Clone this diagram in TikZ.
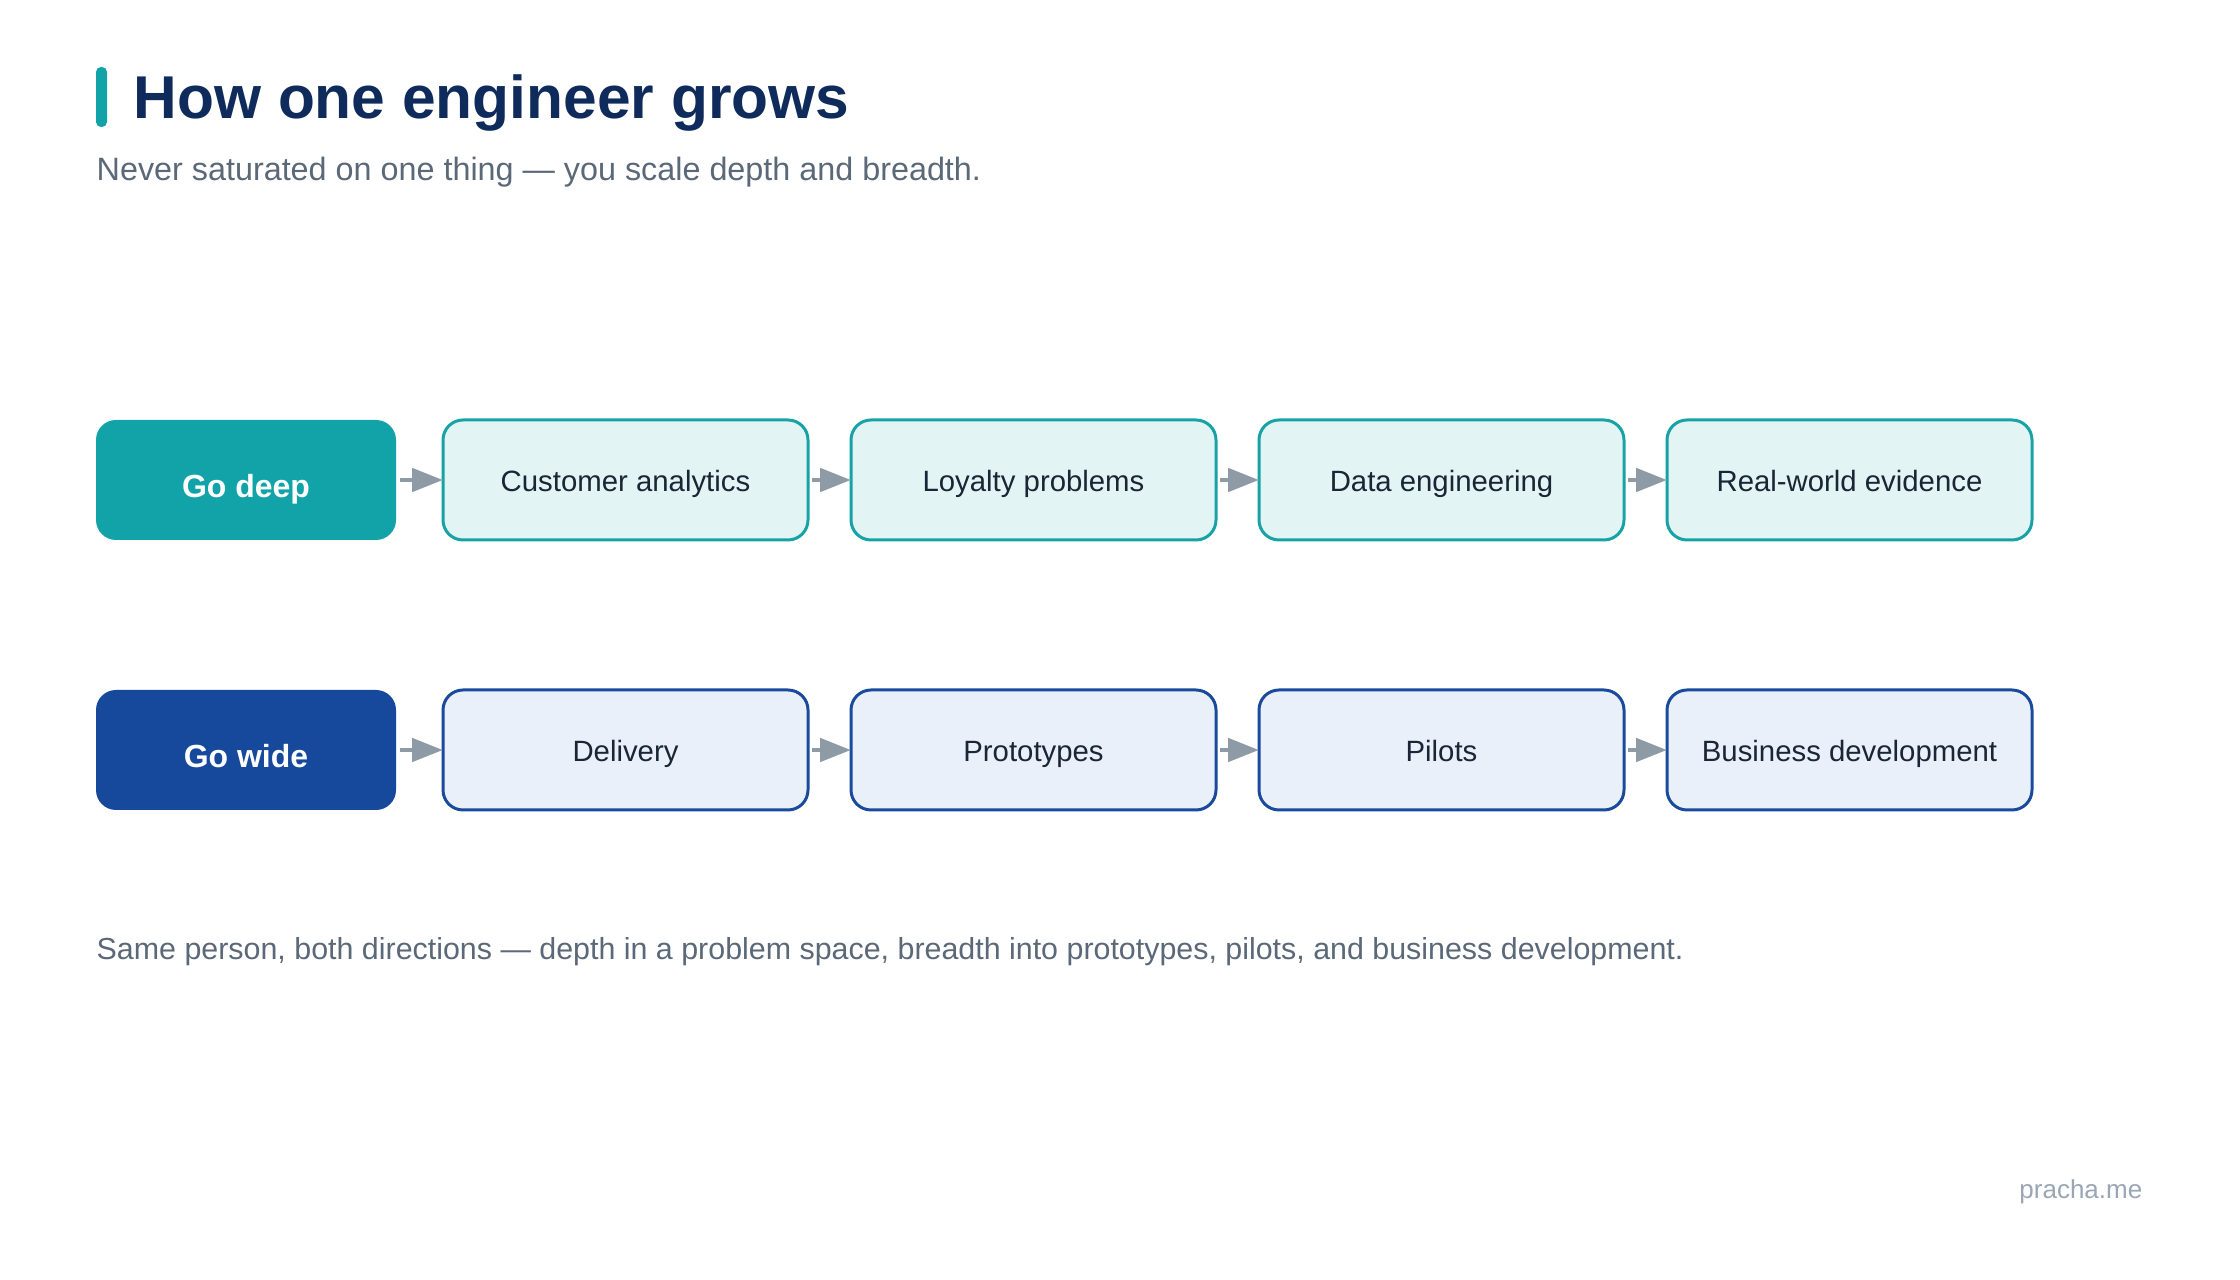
\documentclass[tikz,border=0pt]{standalone}
\usepackage{fontspec}
\setmainfont{Liberation Sans}
\usetikzlibrary{positioning,arrows.meta}

\definecolor{tealdark}{HTML}{12A3A8}
\definecolor{tealline}{HTML}{17A3A6}
\definecolor{tealfill}{HTML}{E2F4F4}
\definecolor{bluedark}{HTML}{16489C}
\definecolor{blueline}{HTML}{1A4A9C}
\definecolor{bluefill}{HTML}{EAF0FA}
\definecolor{navy}{HTML}{0F2B5B}
\definecolor{ink}{HTML}{1A2535}
\definecolor{slate}{HTML}{5B6878}
\definecolor{arrowgray}{HTML}{8E9AA6}
\definecolor{sitegray}{HTML}{9AA6B5}

\tikzstyle{lead}=[rectangle,rounded corners=0.2cm,minimum width=3cm,minimum height=1.2cm,outer sep=0pt,text=white,font=\fontsize{9.1}{11}\selectfont\bfseries,text height=1.01em,text depth=0pt]
\tikzstyle{stage}=[rectangle,rounded corners=0.2cm,line width=0.85pt,minimum width=3.65cm,minimum height=1.2cm,outer sep=0pt,text=ink,font=\fontsize{8.35}{10}\selectfont,text height=0.68em,text depth=0pt]
\tikzstyle{deepstage}=[stage,draw=tealline,fill=tealfill]
\tikzstyle{widestage}=[stage,draw=blueline,fill=bluefill]
\tikzstyle{link}=[-{Triangle[length=3.1mm,width=2.3mm]},line width=1.4pt,draw=arrowgray,fill=arrowgray,shorten <=0.04cm]

\begin{document}
\begin{tikzpicture}
	\useasboundingbox (0,0) rectangle (22.4,-12.8);

	% heading
	\fill[tealdark,rounded corners=0.05cm] (0.96,-0.67) rectangle (1.07,-1.27);
	\node[anchor=base west,inner sep=0pt,text=navy,font=\fontsize{17.2}{20}\selectfont\bfseries] (title) at (1.33,-1.19) {How one engineer grows};
	\node[anchor=base west,inner sep=0pt,text=slate,font=\fontsize{9.2}{11}\selectfont] (sub) at (0.96,-1.81) {Never saturated on one thing — you scale depth and breadth.};

	% depth row
	\node[lead,fill=tealdark] (deep) at (2.46,-4.80) {Go deep};
	\node[deepstage,right=0.47 of deep] (cust) {Customer analytics};
	\node[deepstage,right=0.43 of cust] (loyal) {Loyalty problems};
	\node[deepstage,right=0.43 of loyal] (dataeng) {Data engineering};
	\node[deepstage,right=0.43 of dataeng] (rwe) {Real-world evidence};

	% breadth row
	\node[lead,fill=bluedark] (wide) at (2.46,-7.50) {Go wide};
	\node[widestage,right=0.47 of wide] (deliv) {Delivery};
	\node[widestage,right=0.43 of deliv] (proto) {Prototypes};
	\node[widestage,right=0.43 of proto] (pilot) {Pilots};
	\node[widestage,right=0.43 of pilot] (bizdev) {Business development};

	\foreach \a/\b in {deep/cust,cust/loyal,loyal/dataeng,dataeng/rwe,wide/deliv,deliv/proto,proto/pilot,pilot/bizdev}
		\draw[link] (\a) -- (\b);

	% footer
	\node[anchor=base west,inner sep=0pt,text=slate,font=\fontsize{8.65}{10}\selectfont] (note) at (0.96,-9.60) {Same person, both directions — depth in a problem space, breadth into prototypes, pilots, and business development.};
	\node[anchor=base east,inner sep=0pt,text=sitegray,font=\fontsize{7.4}{9}\selectfont] (site) at (21.43,-11.99) {pracha.me};
\end{tikzpicture}
\end{document}
